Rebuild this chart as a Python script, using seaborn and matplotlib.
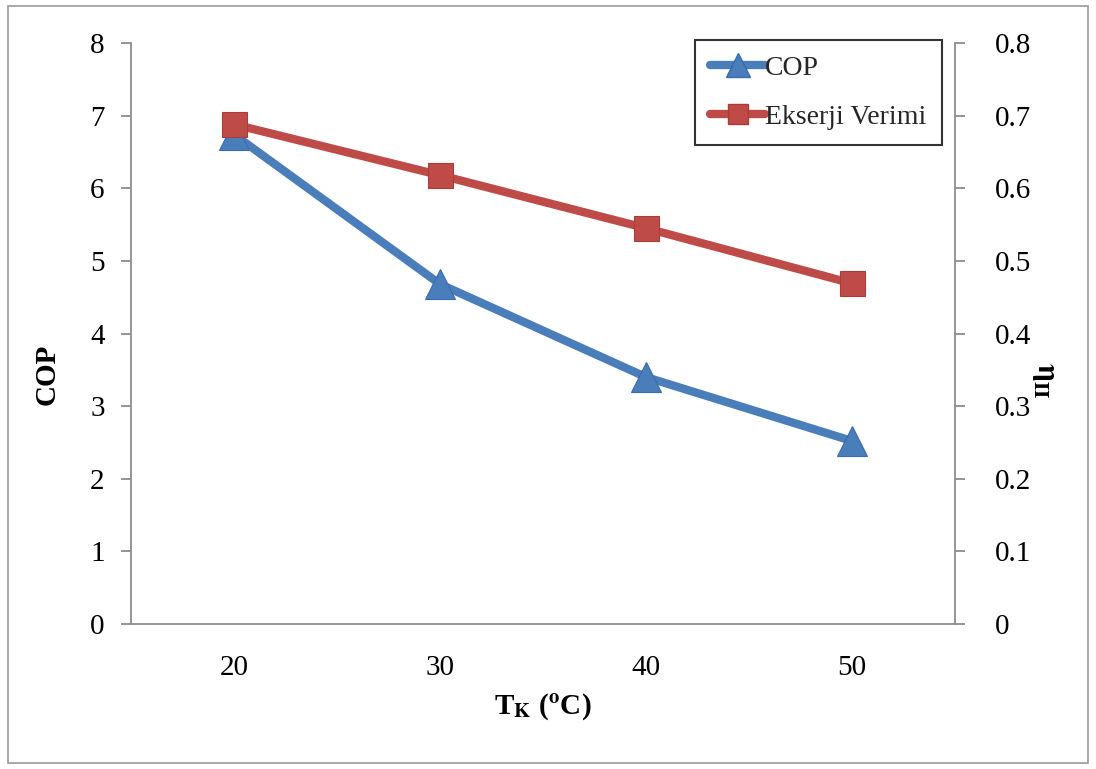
import matplotlib
matplotlib.use("Agg")
import matplotlib.pyplot as plt
from matplotlib.patches import Rectangle
from matplotlib.lines import Line2D
import seaborn as sns
import pandas as pd

# Condenser temperature (°C), COP and exergy efficiency
temps = ["20", "30", "40", "50"]
cop = [6.74, 4.68, 3.40, 2.52]
exergy_eff = [0.688, 0.618, 0.545, 0.469]

sns.set_theme(style="white")
plt.rcParams["font.family"] = ["Liberation Serif", "DejaVu Serif"]
plt.rcParams["mathtext.fontset"] = "stix"

blue = "#4A7EBB"
red = "#BE4B48"
spine_gray = "#8C8C8C"

df = pd.DataFrame({"T": temps, "COP": cop, "Ex": exergy_eff})
df["x"] = range(len(temps))

fig = plt.figure(figsize=(10.96, 7.69), dpi=100)
fig.patches.append(Rectangle((8 / 1096, 6 / 769), 1080 / 1096, 757 / 769,
                             transform=fig.transFigure, fill=False,
                             edgecolor="#9A9A9A", linewidth=1.2))
ax = fig.add_axes([131 / 1096, 1 - 624 / 769, 824 / 1096, 581 / 769])
ax2 = ax.twinx()

sns.lineplot(data=df, x="x", y="COP", ax=ax, color=blue, linewidth=6,
             marker="^", markersize=22, markeredgecolor="#3A6BAA",
             markeredgewidth=0.8, legend=False, zorder=3)
sns.lineplot(data=df, x="x", y="Ex", ax=ax2, color=red, linewidth=6,
             marker="s", markersize=18, markeredgecolor="#A93D3A",
             markeredgewidth=0.8, legend=False, zorder=3)

ax.set_xlim(-0.5, len(temps) - 0.5)
ax.set_xticks(df["x"])
ax.set_xticklabels(temps)
ax.set_ylim(0, 8)
ax.set_yticks(range(0, 9))
ax2.set_ylim(0, 0.8)
ax2.set_yticks([i / 10 for i in range(0, 9)])
ax2.set_yticklabels(["0"] + [f"{i / 10:.1f}" for i in range(1, 9)])

for a in (ax, ax2):
    for s in a.spines.values():
        s.set_visible(False)
ax.spines["left"].set_visible(True)
ax.spines["bottom"].set_visible(True)
ax2.spines["right"].set_visible(True)
for s in (ax.spines["left"], ax.spines["bottom"], ax2.spines["right"]):
    s.set_color(spine_gray)
    s.set_linewidth(1.3)

ax.tick_params(axis="y", direction="out", length=7, width=1.3, color=spine_gray,
               labelsize=21, pad=12, left=True)
ax.tick_params(axis="x", length=0, labelsize=21, pad=22)
ax2.tick_params(axis="y", direction="out", length=7, width=1.3, color=spine_gray,
                labelsize=21, pad=22, right=True)
for lab in ax.get_yticklabels() + ax.get_xticklabels() + ax2.get_yticklabels():
    lab.set_color("black")

ax.set_xlabel(r"T$_{\mathbf{K}}$ ($^{\mathbf{o}}$C)", fontsize=21, fontweight="bold",
              labelpad=8, color="black")
ax.set_ylabel("COP", fontsize=21, fontweight="bold", color="black")
ax.yaxis.set_label_coords(-0.086, 0.43)
ax2.set_ylabel(r"$\mathbf{\eta_{II}}$", fontsize=22, rotation=270, color="black")
ax2.yaxis.set_label_coords(1.126, 0.42)

handles = [
    Line2D([], [], color=blue, linewidth=6, marker="^", markersize=17,
           solid_capstyle="round", markeredgecolor="#3A6BAA"),
    Line2D([], [], color=red, linewidth=6, marker="s", markersize=15,
           solid_capstyle="round", markeredgecolor="#A93D3A"),
]
leg = ax.legend(handles, ["COP", "Ekserji Verimi"], loc="upper right",
                bbox_to_anchor=(942 / 1096, 1 - 40 / 769),
                bbox_transform=fig.transFigure, fontsize=20, handlelength=2.0,
                handletextpad=0.0, labelspacing=0.85, borderpad=0.55,
                borderaxespad=0, frameon=True, fancybox=False)
leg.get_frame().set_edgecolor("black")
leg.get_frame().set_linewidth(1.5)
leg.set_zorder(10)

fig.savefig("out.png", dpi=100, facecolor="white")
